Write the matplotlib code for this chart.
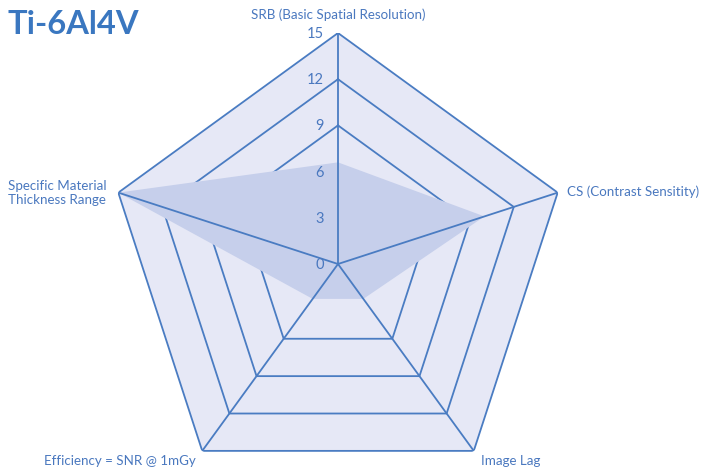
import numpy as np
import matplotlib
matplotlib.use("Agg")
import matplotlib.pyplot as plt
from matplotlib.transforms import offset_copy

categories = ["SRB (Basic Spatial Resolution)", "CS (Contrast Sensitity)", "Image Lag",
              "Efficiency = SNR @ 1mGy", "Specific Material\nThickness Range"]
values = [6.6, 10.0, 2.8, 2.8, 15.0]
rings = [6, 9, 12, 15]
tick_values = [0, 3, 6, 9, 12, 15]
tick_labels = ["0", "3", "6", "9", "12", "15"]
title = "Ti-6Al4V"

LINE = "#4a7cc2"
TEXT = "#4a78bf"
BG = "#e6e8f6"
FILL = "#c6cfeb"
plt.rcParams['font.family'] = ['Lato', 'DejaVu Sans']

fig = plt.figure(figsize=(7.01, 4.68), dpi=100)
W, H = 701, 468
cx, cy, R = 338, 264, 231
ax = fig.add_axes([(cx - R) / W, (H - cy - R) / H, 2 * R / W, 2 * R / H], projection='polar')
ax.set_theta_offset(np.pi / 2)
ax.set_theta_direction(-1)
ax.set_ylim(0, 15)
ax.axis('off')

n = len(categories)
theta = np.arange(n) * 2 * np.pi / n
tc = np.append(theta, theta[0])

outer = np.full(n + 1, rings[-1])
ax.fill(tc, outer, color=BG, zorder=1, lw=0)
for r in rings:
    ax.plot(tc, np.full(n + 1, r), color=LINE, lw=1.3, zorder=2)
vals = np.append(values, values[0])
ax.fill(tc, vals, color=FILL, zorder=3, lw=0)
for t in theta:
    ax.plot([t, t], [0, 15], color=LINE, lw=1.3, zorder=4)

for v, lab in zip(tick_values, tick_labels):
    tr = offset_copy(ax.transData, fig=fig, x=-14, y=-1, units='dots')
    ax.text(0, v, lab, transform=tr, ha='right', va='center', fontsize=10.5,
            color=TEXT, zorder=5)

label_cfg = [
    (0, 18, 'center', 'center'),
    (9, 1, 'left', 'center'),
    (7, -10, 'left', 'center'),
    (-6, -10, 'right', 'center'),
    (-12, 0, 'right', 'center'),
]
for t, lab, (dx, dy, ha, va) in zip(theta, categories, label_cfg):
    tr = offset_copy(ax.transData, fig=fig, x=dx, y=dy, units='dots')
    ax.text(t, 15, lab, transform=tr, ha=ha, va=va, fontsize=9.6, color=TEXT,
            multialignment='left', linespacing=1.2)

fig.text(8 / W, 1 - 24 / H, title, fontsize=23.5, fontweight='bold', color="#3a77c0",
         ha='left', va='center')

fig.savefig("out.png", dpi=100)
